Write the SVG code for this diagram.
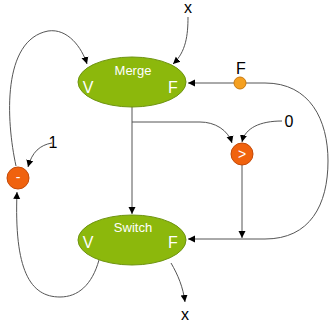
<svg xmlns="http://www.w3.org/2000/svg" width="330" height="324" viewBox="0 0 330 324">
<style>
.ell{fill:#8cb80c;stroke:#6e9410;stroke-width:1}
.op{fill:#f0620e;stroke:#c44a08;stroke-width:1}
.pt{fill:#f5a020;stroke:#c8780c;stroke-width:1}
.title{font-family:"Liberation Sans",Arial,sans-serif;font-size:13px;fill:#fff;text-anchor:middle}
.port{font-family:"Liberation Sans",Arial,sans-serif;font-size:16px;fill:#fff;text-anchor:middle}
.opt{font-family:"Liberation Sans",Arial,sans-serif;font-size:14px;fill:#fff;text-anchor:middle}
.lbl{font-family:"Liberation Sans",Arial,sans-serif;font-size:16px;fill:#000;text-anchor:middle}
.c{fill:none;stroke:#555;stroke-width:1}
</style>
<defs>
<marker id="ah" markerWidth="8" markerHeight="8" refX="7" refY="4" orient="auto" markerUnits="userSpaceOnUse">
<path d="M0,0.5 L7,4 L0,7.5 Z" fill="#000"/>
</marker>
</defs>
<g id="connectors">
<path class="c" d="M188,17 C188,35 186,52 173,64" marker-end="url(#ah)"/>
<path class="c" d="M16,166 C6,120 2,40 48,31 C68,28 82,48 87,64" marker-end="url(#ah)"/>
<path class="c" d="M52,143 C40,145 32,152 28,167" marker-end="url(#ah)"/>
<path class="c" d="M99,260 C92,285 78,297 60,297 C30,297 14,270 17,192" marker-end="url(#ah)"/>
<path class="c" d="M234,83 L188,83" marker-end="url(#ah)"/>
<path class="c" d="M246,83 L265,83 C310,83 328,120 328,161 C328,205 310,239 265,239 L188,239" marker-end="url(#ah)"/>
<path class="c" d="M132,107 L132,214" marker-end="url(#ah)"/>
<path class="c" d="M132,122 L200,122 C215,122 228,130 232,143" marker-end="url(#ah)"/>
<path class="c" d="M282,121 C260,121 245,128 242,142" marker-end="url(#ah)"/>
<path class="c" d="M242,165 L242,238" marker-end="url(#ah)"/>
<path class="c" d="M171,263 C178,275 183,287 185,302" marker-end="url(#ah)"/>
</g>
<g id="merge">
<ellipse class="ell" cx="132" cy="82" rx="54" ry="25"/>
<text class="title" x="133" y="75">Merge</text>
<text class="port" x="88" y="93">V</text>
<text class="port" x="173" y="93">F</text>
</g>
<g id="switch">
<ellipse class="ell" cx="132" cy="240" rx="54" ry="25"/>
<text class="title" x="133" y="232">Switch</text>
<text class="port" x="88" y="248">V</text>
<text class="port" x="173" y="248">F</text>
</g>
<g id="minus">
<circle class="op" cx="18" cy="178" r="11"/>
<text class="opt" x="18" y="182">-</text>
</g>
<g id="gt">
<circle class="op" cx="242" cy="154" r="11"/>
<text class="opt" x="242" y="159">&gt;</text>
</g>
<g id="fpoint">
<circle class="pt" cx="240" cy="83" r="6"/>
</g>
<g id="labels">
<text class="lbl" x="188" y="13">x</text>
<text class="lbl" x="241" y="74">F</text>
<text class="lbl" x="289" y="127">0</text>
<text class="lbl" x="53" y="148">1</text>
<text class="lbl" x="185" y="320">x</text>
</g>
</svg>
